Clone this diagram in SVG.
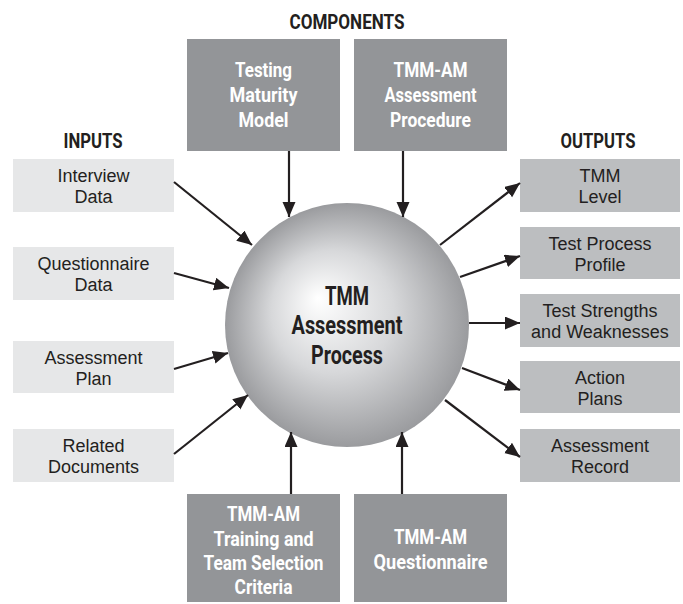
<svg xmlns="http://www.w3.org/2000/svg" width="683" height="604" viewBox="0 0 683 604">
<style>
.cond{font-family:Roboto,"Liberation Sans",sans-serif;font-weight:bold;text-anchor:middle}
.comp rect{fill:#939598}
.comp text{fill:#ffffff;font-size:20px}
.in rect{fill:#e6e7e8}
.out rect{fill:#bcbec0}
.lbl{font-family:"Liberation Sans",Arial,sans-serif;font-size:18px;fill:#231f20;text-anchor:middle}
.hdr{fill:#231f20;font-size:20px}
.ctr{fill:#231f20;font-size:26px}
.conn line{stroke:#231f20;stroke-width:2.2;marker-end:url(#ah)}
</style>
<defs>
<marker id="ah" markerUnits="userSpaceOnUse" markerWidth="16" markerHeight="14" refX="15" refY="6.5" orient="auto">
<path d="M0,0 L15,6.5 L0,13 z" fill="#231f20"/>
</marker>
<radialGradient id="sph" cx="347" cy="325" r="122" fx="318" fy="298" gradientUnits="userSpaceOnUse">
<stop offset="0" stop-color="#ffffff"/>
<stop offset="0.5" stop-color="#d7d8da"/>
<stop offset="1" stop-color="#9a9b9e"/>
</radialGradient>
</defs>
<rect width="683" height="604" fill="#ffffff"/>

<text class="cond hdr" x="347" y="29" textLength="115" lengthAdjust="spacingAndGlyphs">COMPONENTS</text>
<text class="cond hdr" x="93" y="148" textLength="59" lengthAdjust="spacingAndGlyphs">INPUTS</text>
<text class="cond hdr" x="598" y="148" textLength="75" lengthAdjust="spacingAndGlyphs">OUTPUTS</text>

<g id="center">
<circle cx="347" cy="325" r="122" fill="url(#sph)"/>
<text class="cond ctr" x="347" y="305" textLength="44" lengthAdjust="spacingAndGlyphs">TMM</text>
<text class="cond ctr" x="347" y="334" textLength="111" lengthAdjust="spacingAndGlyphs">Assessment</text>
<text class="cond ctr" x="347" y="364" textLength="72" lengthAdjust="spacingAndGlyphs">Process</text>
</g>

<g id="comp-tmm" class="comp">
<rect x="187" y="39" width="153" height="112"/>
<text class="cond" x="263.5" y="77" textLength="57" lengthAdjust="spacingAndGlyphs">Testing</text>
<text class="cond" x="263.5" y="102" textLength="68" lengthAdjust="spacingAndGlyphs">Maturity</text>
<text class="cond" x="263.5" y="127" textLength="50" lengthAdjust="spacingAndGlyphs">Model</text>
</g>
<g id="comp-proc" class="comp">
<rect x="354" y="39" width="153" height="112"/>
<text class="cond" x="430.5" y="77" textLength="74" lengthAdjust="spacingAndGlyphs">TMM-AM</text>
<text class="cond" x="430.5" y="102" textLength="92" lengthAdjust="spacingAndGlyphs">Assessment</text>
<text class="cond" x="430.5" y="127" textLength="81" lengthAdjust="spacingAndGlyphs">Procedure</text>
</g>
<g id="comp-training" class="comp">
<rect x="187" y="494" width="153" height="108"/>
<text class="cond" x="263.5" y="521" textLength="73" lengthAdjust="spacingAndGlyphs">TMM-AM</text>
<text class="cond" x="263.5" y="546" textLength="100" lengthAdjust="spacingAndGlyphs">Training and</text>
<text class="cond" x="263.5" y="570" textLength="120" lengthAdjust="spacingAndGlyphs">Team Selection</text>
<text class="cond" x="263.5" y="594" textLength="58" lengthAdjust="spacingAndGlyphs">Criteria</text>
</g>
<g id="comp-quest" class="comp">
<rect x="354" y="494" width="153" height="108"/>
<text class="cond" x="430.5" y="544" textLength="73" lengthAdjust="spacingAndGlyphs">TMM-AM</text>
<text class="cond" x="430.5" y="569" textLength="114" lengthAdjust="spacingAndGlyphs">Questionnaire</text>
</g>

<g id="in-interview" class="in">
<rect x="13" y="159" width="161" height="53"/>
<text class="lbl" x="93.5" y="182">Interview</text>
<text class="lbl" x="93.5" y="203">Data</text>
</g>
<g id="in-questionnaire" class="in">
<rect x="13" y="247" width="161" height="53"/>
<text class="lbl" x="93.5" y="270">Questionnaire</text>
<text class="lbl" x="93.5" y="291">Data</text>
</g>
<g id="in-plan" class="in">
<rect x="13" y="341" width="161" height="52"/>
<text class="lbl" x="93.5" y="364">Assessment</text>
<text class="lbl" x="93.5" y="385">Plan</text>
</g>
<g id="in-docs" class="in">
<rect x="13" y="429" width="161" height="53"/>
<text class="lbl" x="93.5" y="452">Related</text>
<text class="lbl" x="93.5" y="473">Documents</text>
</g>

<g id="out-level" class="out">
<rect x="520" y="159" width="160" height="53"/>
<text class="lbl" x="600" y="182">TMM</text>
<text class="lbl" x="600" y="203">Level</text>
</g>
<g id="out-profile" class="out">
<rect x="520" y="227" width="160" height="52"/>
<text class="lbl" x="600" y="250">Test Process</text>
<text class="lbl" x="600" y="271">Profile</text>
</g>
<g id="out-strengths" class="out">
<rect x="520" y="294" width="160" height="53"/>
<text class="lbl" x="600" y="317">Test Strengths</text>
<text class="lbl" x="600" y="338">and Weaknesses</text>
</g>
<g id="out-action" class="out">
<rect x="520" y="361" width="160" height="52"/>
<text class="lbl" x="600" y="384">Action</text>
<text class="lbl" x="600" y="405">Plans</text>
</g>
<g id="out-record" class="out">
<rect x="520" y="429" width="160" height="53"/>
<text class="lbl" x="600" y="452">Assessment</text>
<text class="lbl" x="600" y="473">Record</text>
</g>

<g id="connectors" class="conn">
<line x1="174" y1="182" x2="252" y2="245"/>
<line x1="174" y1="273" x2="229" y2="288"/>
<line x1="174" y1="369" x2="228" y2="353"/>
<line x1="174" y1="454" x2="248" y2="395"/>
<line x1="289" y1="151" x2="289" y2="217"/>
<line x1="403" y1="151" x2="403" y2="217"/>
<line x1="291" y1="494" x2="291" y2="432"/>
<line x1="402" y1="494" x2="402" y2="432"/>
<line x1="440" y1="245" x2="520" y2="183"/>
<line x1="460" y1="277" x2="520" y2="256"/>
<line x1="469" y1="323" x2="520" y2="323"/>
<line x1="462" y1="368" x2="520" y2="390"/>
<line x1="445" y1="400" x2="520" y2="457"/>
</g>
</svg>
